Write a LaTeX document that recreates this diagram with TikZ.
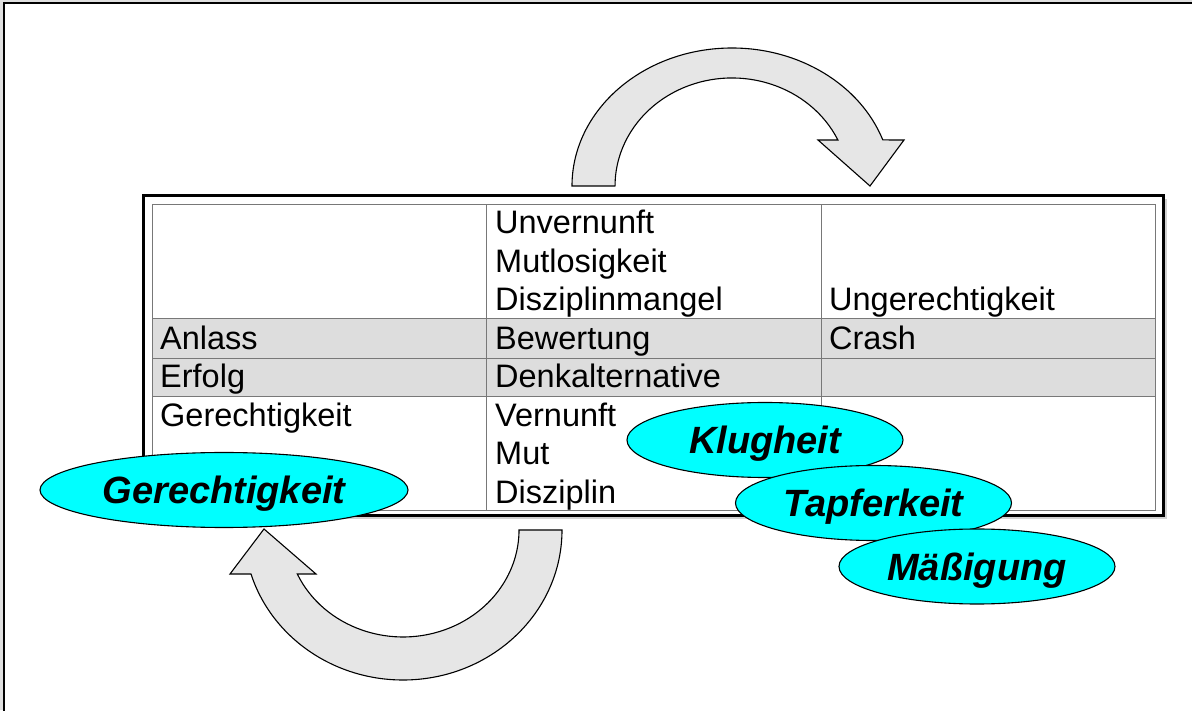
\documentclass[tikz,border=0pt]{standalone}
\usepackage{fontspec}
\setmainfont{Liberation Sans}
\usetikzlibrary{shapes.geometric,shadows}

\definecolor{bogengrau}{RGB}{230,230,230}
\definecolor{zeilengrau}{RGB}{221,221,221}
\definecolor{liniengrau}{RGB}{120,120,120}
\definecolor{tugendblau}{RGB}{0,255,255}

\tikzset{
  zelle/.style={anchor=base west, inner sep=0pt, font=\fontsize{32.5}{38}\selectfont},
  tugend/.style={ellipse, draw=black, fill=tugendblau, line width=1.1pt,
    minimum width=276pt, minimum height=75pt, inner sep=0pt, text depth=0pt,
    font=\fontsize{38}{44}\selectfont\bfseries\itshape},
  bogen/.style={draw=black, fill=bogengrau, line width=1.1pt, line join=miter},
  gitter/.style={draw=liniengrau, line width=0.8pt},
}

\begin{document}
\begin{tikzpicture}[x=1pt,y=1pt]

  \clip (0,0) rectangle (1192,710);
  \fill[gray!25] (0,0) rectangle (1192,710);
  \draw[line width=2.4pt, fill=white] (4,-10) -- (4,707) -- (1200,707) -- (1200,-10) -- cycle;

  % Pfeile
  \draw[bogen] (615,524) -- (572,524)
    arc[start angle=180, end angle=19.5, x radius=160, y radius=138]
    -- (904,570) -- (870,524) -- (818,570) -- (837.9,570)
    arc[start angle=25.2, end angle=180, x radius=117, y radius=108] -- cycle;
  \draw[bogen] (562,180)
    arc[start angle=0, end angle=-162.94, x radius=159, y radius=150]
    -- (230,136) -- (264,181) -- (316,136) -- (297.3,136)
    arc[start angle=-155.7, end angle=0, x radius=116, y radius=107] -- cycle;

  % Tabelle
  \draw[line width=3.4pt, fill=white,
    drop shadow={shadow xshift=3.5pt, shadow yshift=-3.5pt, fill=gray!70, opacity=.5}]
    (143.3,194.7) rectangle (1163.3,514.7);
  \fill[zeilengrau] (152,314) rectangle (1155,392);
  \draw[gitter] (152,200) rectangle (1155,506);
  \foreach \y in {392,352,314}
    \draw[gitter] (152,\y) -- (1155,\y);
  \foreach \x in {486,821}
    \draw[gitter] (\x,200) -- (\x,506);

  \node[zelle] (unvernunft) at (495,476) {Unvernunft};
  \node[zelle] (mutlos) at (495,437.6) {Mutlosigkeit};
  \node[zelle] (diszmangel) at (495,399.3) {Disziplinmangel};
  \node[zelle] (ungerecht) at (829,399.3) {Ungerechtigkeit};
  \node[zelle] (anlass) at (160,360.7) {Anlass};
  \node[zelle] (bewertung) at (495,360.7) {Bewertung};
  \node[zelle] (crash) at (829,360.7) {Crash};
  \node[zelle] (erfolg) at (160,322.4) {Erfolg};
  \node[zelle] (denkalt) at (495,322.4) {Denkalternative};
  \node[zelle] (gerecht) at (160,283.3) {Gerechtigkeit};
  \node[zelle] (vernunft) at (495,283.3) {Vernunft};
  \node[zelle] (mut) at (495,245) {Mut};
  \node[zelle] (disziplin) at (495,206.7) {Disziplin};

  % Tugenden
  \node[tugend] (klug) at (765,270) {Klugheit};
  \node[tugend] (tapfer) at (873.5,207) {Tapferkeit};
  \node[tugend] (maess) at (977,143.5) {Mäßigung};
  \node[tugend, minimum width=368pt] (gerechtoval) at (224,220) {Gerechtigkeit};

\end{tikzpicture}
\end{document}
